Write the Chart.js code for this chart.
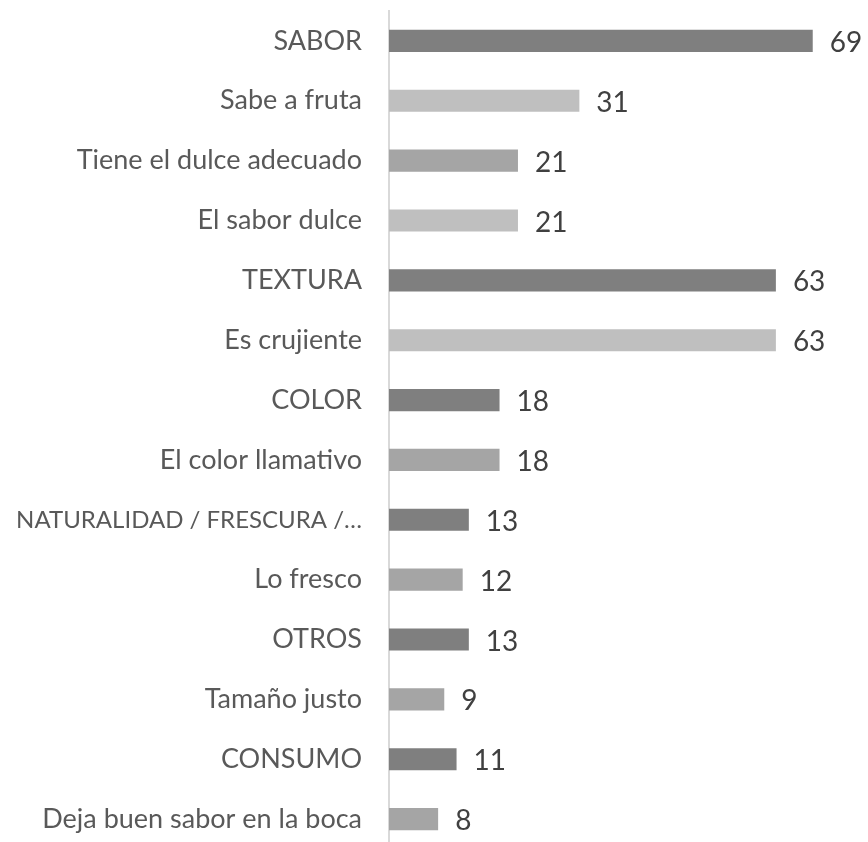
<!DOCTYPE html>
<html>
<head>
<meta charset="utf-8">
<script src="https://cdn.jsdelivr.net/npm/chart.js@4/dist/chart.umd.min.js"></script>
<style>
  html, body { margin: 0; padding: 0; background: #fff; overflow: hidden; }
  #wrap { width: 868px; height: 850px; position: relative; }
</style>
</head>
<body>
<div id="wrap"><canvas id="chart"></canvas></div>
<script>
const categories = [
    "SABOR",
    "Sabe a fruta",
    "Tiene el dulce adecuado",
    "El sabor dulce",
    "TEXTURA",
    "Es crujiente",
    "COLOR",
    "El color llamativo",
    "NATURALIDAD / FRESCURA /…",
    "Lo fresco",
    "OTROS",
    "Tamaño justo",
    "CONSUMO",
    "Deja buen sabor en la boca"
];

const values = [69, 31, 21, 21, 63, 63, 18, 18, 13, 12, 13, 9, 11, 8];

const barColors = [
    "#7F7F7F", "#BFBFBF", "#A5A5A5", "#BFBFBF", "#7F7F7F", "#BFBFBF", "#7F7F7F",
    "#A5A5A5", "#7F7F7F", "#A5A5A5", "#7F7F7F", "#A5A5A5", "#7F7F7F", "#A5A5A5"
];

// draws the number right of each bar
const valueLabels = {
    id: "valueLabels",
    afterDatasetsDraw(chart) {
        const ctx = chart.ctx;
        const meta = chart.getDatasetMeta(0);
        ctx.save();
        ctx.font = "28px Lato";
        ctx.fillStyle = "#404040";
        ctx.textAlign = "left";
        ctx.textBaseline = "middle";
        meta.data.forEach((bar, i) => {
            ctx.fillText(values[i], bar.x + 17, bar.y + 2);
        });
        ctx.restore();
    }
};

new Chart(document.getElementById("chart"), {
    type: "bar",
    data: {
        labels: categories,
        datasets: [{
            data: values,
            backgroundColor: barColors,
            borderWidth: 0,
            categoryPercentage: 1,
            barPercentage: 0.37
        }]
    },
    plugins: [valueLabels],
    options: {
        indexAxis: "y",
        responsive: true,
        maintainAspectRatio: false,
        animation: false,
        layout: { padding: { top: 11, bottom: 1, left: 0, right: 0 } },
        plugins: {
            legend: { display: false },
            tooltip: { enabled: false }
        },
        scales: {
            x: {
                display: false,
                min: 0,
                max: 78
            },
            y: {
                afterFit: (scale) => {
                    scale.width = 389;
                    scale.paddingTop = 0;
                    scale.paddingBottom = 0;
                },
                grid: { display: false, drawTicks: false },
                border: { display: true, color: "#D9D9D9", width: 2 },
                ticks: {
                    color: "#595959",
                    // the long truncated label is a bit smaller so it fits
                    font: (c) => ({ family: "Lato", size: c.index === 8 ? 24 : 27 }),
                    padding: 27,
                    autoSkip: false
                }
            }
        }
    }
});
</script>
</body>
</html>
